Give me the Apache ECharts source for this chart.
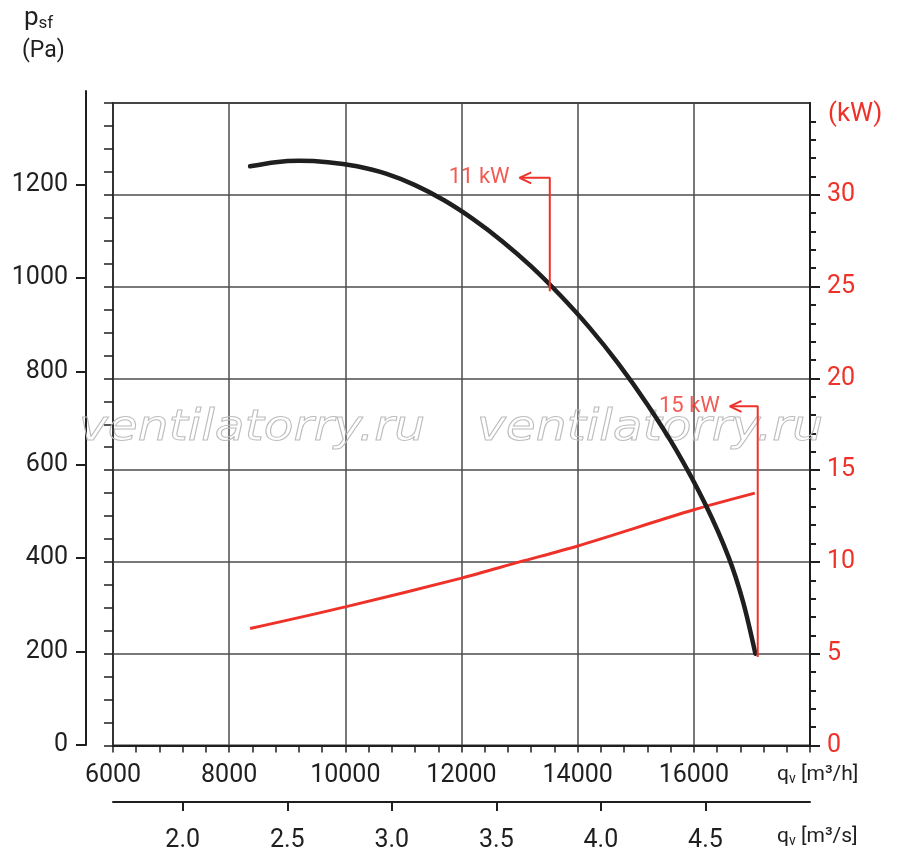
<!DOCTYPE html>
<html>
<head>
<meta charset="utf-8">
<script src="https://cdn.jsdelivr.net/npm/echarts@6/dist/echarts.min.js"></script>
<style>
html, body { margin: 0; padding: 0; background: #fff; }
#main { width: 900px; height: 859px; }
</style>
</head>
<body>
<div id="main"></div>
<script>
// 风机特性曲线: 静压 p_sf (Pa) 与功率 (kW) 随风量 q_v 变化
var pressureFlow = [8360, 8800, 9200, 9700, 10200, 10700, 11200, 11700, 12200, 12700, 13200, 13700, 14200, 14700, 15200, 15700, 16200, 16600, 16850, 17060];
var pressure     = [1262, 1271, 1274, 1271, 1262, 1246, 1221, 1188, 1147, 1099, 1044, 981, 911, 832, 743, 643, 525, 410, 312, 200];

var powerFlow = [8360, 10000, 12000, 13000, 14000, 16000, 17050];
var power     = [6.37, 7.55, 9.12, 10.0, 10.87, 12.84, 13.75];

// 刻度
var flowTicks     = [6000, 8000, 10000, 12000, 14000, 16000];
var flowSecTicks  = [2.0, 2.5, 3.0, 3.5, 4.0, 4.5];
var pressureTicks = [0, 200, 400, 600, 800, 1000, 1200];
var powerTicks    = [0, 5, 10, 15, 20, 25, 30];

// 电机功率标注
var kwLabels    = ['11 kW', '15 kW'];
var kwTipFlow   = [13000, 16620];
var kwTipPa     = [1237, 739];
var kwLeadFlow  = [13520, 17100];
var kwLeadEndPa = [990, 193];

var RED = '#ee3229';
var INK = '#1f1f1f';
var GRID = '#4d4d4d';
var FONT = 'Roboto';

function pairs(xs, ys) {
    return xs.map(function (x, i) { return [x, ys[i]]; });
}

var myChart = echarts.init(document.getElementById('main'));

var series = [
    {
        name: 'psf',
        type: 'line',
        xAxisIndex: 0,
        yAxisIndex: 0,
        data: pairs(pressureFlow, pressure),
        smooth: 0.3,
        symbol: 'none',
        lineStyle: { color: INK, width: 4.5, cap: 'round' },
        z: 4
    },
    {
        name: 'power',
        type: 'line',
        xAxisIndex: 0,
        yAxisIndex: 2,
        data: pairs(powerFlow, power),
        smooth: 0.3,
        symbol: 'none',
        lineStyle: { color: RED, width: 3 },
        z: 3
    }
];

kwLabels.forEach(function (txt, i) {
    var tx = kwTipFlow[i], ty = kwTipPa[i], lx = kwLeadFlow[i];
    series.push({
        type: 'line', xAxisIndex: 0, yAxisIndex: 0, silent: true, symbol: 'none', z: 5,
        data: [[tx, ty], [lx, ty], [lx, kwLeadEndPa[i]]],
        lineStyle: { color: RED, width: 2 }
    });
    series.push({
        type: 'line', xAxisIndex: 0, yAxisIndex: 0, silent: true, symbol: 'none', z: 5,
        data: [[tx + 200, ty + 12], [tx, ty], [tx + 200, ty - 12]],
        lineStyle: { color: RED, width: 2 }
    });
    series.push({
        type: 'scatter', xAxisIndex: 0, yAxisIndex: 0, silent: true, symbolSize: 0, z: 5,
        data: [[tx, ty]],
        label: {
            show: true, position: 'left', distance: 10, formatter: txt,
            color: RED, fontSize: 22, fontFamily: FONT
        }
    });
});

myChart.setOption({
    backgroundColor: '#fff',
    animation: false,
    textStyle: { fontFamily: FONT },
    grid: [
        { left: 113, right: 90, top: 103, bottom: 113.5, show: true, borderColor: '#333', borderWidth: 2 },
        { left: 86, width: 20, top: 91, bottom: 114 }
    ],
    xAxis: [
        {
            gridIndex: 0, type: 'value', min: 6000, max: 18000, interval: 2000, position: 'bottom',
            axisLine: { show: true, onZero: false, lineStyle: { color: INK, width: 2 } },
            axisTick: { show: true, length: 7, lineStyle: { color: INK, width: 1.5 } },
            minorTick: { show: true, splitNumber: 5, length: 7, lineStyle: { color: INK, width: 1.5 } },
            axisLabel: {
                customValues: flowTicks, color: INK, fontSize: 25, margin: 18,
                formatter: function (v) { return String(v); }
            },
            splitLine: { show: true, lineStyle: { color: GRID, width: 1.5 } }
        },
        {
            gridIndex: 0, type: 'value', min: 6000, max: 18000, position: 'bottom', offset: 56.5,
            axisLine: { show: true, onZero: false, lineStyle: { color: INK, width: 2 } },
            axisTick: { show: true, length: 9, customValues: flowSecTicks.map(function (v) { return v * 3600; }), lineStyle: { color: INK, width: 2 } },
            axisLabel: {
                customValues: flowSecTicks.map(function (v) { return v * 3600; }),
                color: INK, fontSize: 25, margin: 26,
                formatter: function (v) { return (v / 3600).toFixed(1); }
            },
            splitLine: { show: false }
        },
        { gridIndex: 1, type: 'value', show: false, min: 0, max: 1 }
    ],
    yAxis: [
        {
            gridIndex: 0, type: 'value', min: 0, max: 1400, interval: 200, position: 'left',
            axisLine: { show: true, onZero: false, lineStyle: { color: '#333', width: 2 } },
            axisTick: { show: true, length: 9, lineStyle: { color: INK, width: 1.5 } },
            minorTick: { show: true, splitNumber: 4, length: 9, lineStyle: { color: INK, width: 1.5 } },
            axisLabel: { show: false },
            splitLine: { show: true, lineStyle: { color: GRID, width: 1.5 } }
        },
        {
            gridIndex: 1, type: 'value', min: 0, max: 1400, interval: 200, position: 'left',
            axisLine: { show: true, onZero: false, lineStyle: { color: INK, width: 2 } },
            axisTick: { show: true, length: 10, customValues: pressureTicks, lineStyle: { color: INK, width: 2 } },
            axisLabel: {
                customValues: pressureTicks, color: INK, fontSize: 25, margin: 18,
                formatter: function (v) { return String(v); }
            },
            splitLine: { show: false }
        },
        {
            gridIndex: 0, type: 'value', min: 0, max: 35, interval: 5, position: 'right',
            axisLine: { show: true, onZero: false, lineStyle: { color: INK, width: 2 } },
            axisTick: { show: true, length: 10, customValues: powerTicks, lineStyle: { color: INK, width: 2 } },
            minorTick: { show: true, splitNumber: 5, length: 6, lineStyle: { color: INK, width: 2 } },
            axisLabel: { customValues: powerTicks, color: RED, fontSize: 25, margin: 17 },
            splitLine: { show: false }
        }
    ],
    graphic: [
        {
            type: 'text', x: 79, y: 429, scaleX: 1.16, z: 1, silent: true,
            style: { text: 'ventilatorry.ru', font: 'italic 42px "DejaVu Sans"', fill: 'rgba(255,255,255,0)', stroke: '#bdbdbd', lineWidth: 1, verticalAlign: 'middle' }
        },
        {
            type: 'text', x: 477, y: 429, scaleX: 1.16, z: 1, silent: true,
            style: { text: 'ventilatorry.ru', font: 'italic 42px "DejaVu Sans"', fill: 'rgba(255,255,255,0)', stroke: '#bdbdbd', lineWidth: 1, verticalAlign: 'middle' }
        },
        {
            type: 'text', left: 24, top: 5,
            style: {
                text: '{p|p}{s|sf}',
                rich: {
                    p: { fontSize: 26, fontFamily: FONT, fill: INK, color: INK },
                    s: { fontSize: 17, fontFamily: FONT, fill: INK, color: INK, padding: [12, 0, 0, 0] }
                }
            }
        },
        {
            type: 'text', left: 22, top: 40,
            style: { text: '(Pa)', font: '23px Roboto', fill: INK }
        },
        {
            type: 'text', left: 828, top: 101,
            style: { text: '(kW)', font: '26px Roboto', fill: RED }
        },
        {
            type: 'text', left: 777, top: 764,
            style: {
                text: '{a|q}{b|v}{a| [m³/h]}',
                rich: {
                    a: { fontSize: 21, fontFamily: FONT, fill: INK, color: INK },
                    b: { fontSize: 14, fontFamily: FONT, fill: INK, color: INK, padding: [9, 0, 0, 0] }
                }
            }
        },
        {
            type: 'text', left: 777, top: 826,
            style: {
                text: '{a|q}{b|v}{a| [m³/s]}',
                rich: {
                    a: { fontSize: 21, fontFamily: FONT, fill: INK, color: INK },
                    b: { fontSize: 14, fontFamily: FONT, fill: INK, color: INK, padding: [9, 0, 0, 0] }
                }
            }
        }
    ],
    series: series
});
</script>
</body>
</html>
